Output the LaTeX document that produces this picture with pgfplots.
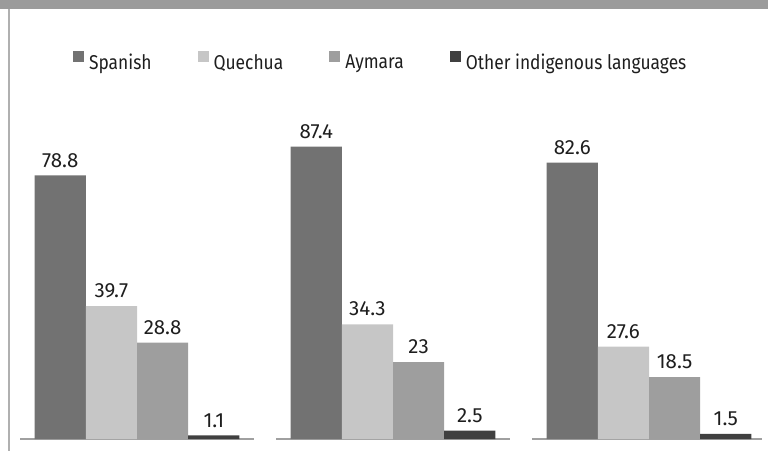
\documentclass[border=0pt]{standalone}
\usepackage{pgfplots}
\pgfplotsset{compat=1.18}
\usepackage{fontspec}
\setmainfont{Fira Sans}
\newfontfamily\legfont{Fira Sans}[FakeStretch=0.87]

\definecolor{spanish}{HTML}{727272}
\definecolor{quechua}{HTML}{C6C6C6}
\definecolor{aymara}{HTML}{9E9E9E}
\definecolor{otherlang}{HTML}{404040}
\definecolor{bandgray}{HTML}{9B9B9B}
\definecolor{bordergray}{HTML}{B0B0B0}
\definecolor{basegray}{HTML}{A0A0A0}
\definecolor{labelc}{HTML}{1E1E1E}

\pgfplotsset{
  mybar/.style={ybar, bar width=0.2, bar shift=0pt, fill=#1, draw=none, nodes near coords,
    legend image code/.code={\fill[fill=#1] (0pt,0.5pt) rectangle (11pt,11.5pt); \path (16pt,0pt);}},
}

\begin{document}
\begin{tikzpicture}
\begin{axis}[
    at={(0,0)}, anchor=south west,
    scale only axis,
    width=768pt, height=451pt,
    xmin=-0.5352, xmax=2.4648,
    ymin=-3.587, ymax=131.24,
    hide axis,
    /pgf/number format/assume math mode=true,
    every node near coord/.append style={font=\fontsize{20.5pt}{20.5pt}\selectfont,
        text=labelc, yshift=4.5pt},
    legend columns=4,
    legend style={at={(0.0951,0.864)}, anchor=west, draw=none, fill=none,
        inner sep=0pt, outer sep=0pt,
        font=\legfont\fontsize{20pt}{20pt}\selectfont, text=labelc,
        nodes={inner sep=0pt},
        /tikz/every even column/.append style={column sep=46pt}},
]
% baselines under each group
\addplot[basegray, line width=1.7pt, forget plot] coordinates {(-0.457,0) (0.457,0)};
\addplot[basegray, line width=1.7pt, forget plot] coordinates {(0.543,0) (1.457,0)};
\addplot[basegray, line width=1.7pt, forget plot] coordinates {(1.543,0) (2.441,0)};

% groups centred at 0, 1, 2; bars at -0.3, -0.1, 0.1, 0.3 around the centre
\addplot[mybar=spanish]   coordinates {(-0.3,78.8) (0.7,87.4) (1.7,82.6)};
\addplot[mybar=quechua]   coordinates {(-0.1,39.7) (0.9,34.3) (1.9,27.6)};
\addplot[mybar=aymara]    coordinates {(0.1,28.8) (1.1,23) (2.1,18.5)};
\addplot[mybar=otherlang] coordinates {(0.3,1.1) (1.3,2.5) (2.3,1.5)};
\legend{Spanish, Quechua, Aymara, Other indigenous languages}
\end{axis}
\fill[bandgray] (0pt,442pt) rectangle (768pt,451pt);
\fill[bordergray] (8pt,0pt) rectangle (9.5pt,442pt);
\pgfresetboundingbox
\path[use as bounding box] (0pt,0pt) rectangle (768pt,451pt);
\end{tikzpicture}
\end{document}
